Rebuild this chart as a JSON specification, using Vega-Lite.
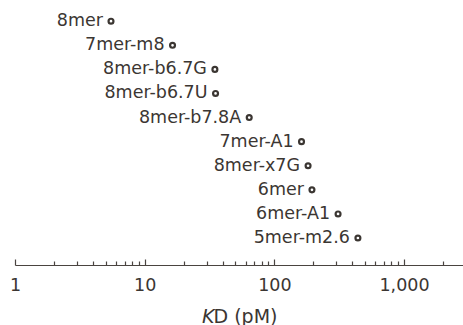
{
  "$schema": "https://vega.github.io/schema/vega-lite/v6.json",
  "autosize": "none",
  "padding": {"left": 15, "top": 0, "right": 0, "bottom": 60},
  "width": 448,
  "height": 265,
  "background": "white",
  "config": {"view": {"stroke": null}, "font": "DejaVu Sans"},
  "data": {
    "values": [
      {"site": "8mer", "kd": 5.5},
      {"site": "7mer-m8", "kd": 16.4},
      {"site": "8mer-b6.7G", "kd": 34.8},
      {"site": "8mer-b6.7U", "kd": 35.2},
      {"site": "8mer-b7.8A", "kd": 64},
      {"site": "7mer-A1", "kd": 162},
      {"site": "8mer-x7G", "kd": 182},
      {"site": "6mer", "kd": 195},
      {"site": "6mer-A1", "kd": 310},
      {"site": "5mer-m2.6", "kd": 441}
    ]
  },
  "encoding": {
    "y": {
      "field": "site",
      "type": "nominal",
      "sort": null,
      "axis": null,
      "scale": {"type": "point", "padding": 1.05, "align": 0.44}
    },
    "x": {
      "field": "kd",
      "type": "quantitative",
      "scale": {"type": "log", "domain": [1, 2850], "nice": false},
      "axis": {
        "values": [1, 2, 3, 4, 5, 6, 7, 8, 9, 10, 20, 30, 40, 50, 60, 70, 80, 90, 100, 200, 300, 400, 500, 600, 700, 800, 900, 1000, 2000],
        "labelExpr": "abs(log(datum.value)/LN10 - round(log(datum.value)/LN10)) < 0.001 ? format(datum.value, ',') : ''",
        "tickSize": {"condition": {"test": "abs(log(datum.value)/LN10 - round(log(datum.value)/LN10)) < 0.001", "value": -6}, "value": -4},
        "grid": false,
        "domainColor": "#4a4440",
        "tickColor": "#4a4440",
        "domainWidth": 1.2,
        "tickWidth": 1.2,
        "labelFontSize": 17.5,
        "labelColor": "#3b3632",
        "labelPadding": 17,
        "labelFlush": false,
        "labelOverlap": false,
        "labelBound": false,
        "title": "𝘒D (pM)",
        "titleFontSize": 19,
        "titleFontWeight": "normal",
        "titleColor": "#3b3632",
        "titlePadding": 12
      }
    }
  },
  "layer": [
    {
      "mark": {"type": "point", "shape": "circle", "filled": true, "fill": "#ffffff", "stroke": "#3b3632", "strokeWidth": 2.2, "size": 24, "opacity": 1}
    },
    {
      "mark": {"type": "text", "align": "right", "baseline": "middle", "dx": -8, "fontSize": 17.5, "color": "#3b3632"},
      "encoding": {"text": {"field": "site"}}
    }
  ]
}
